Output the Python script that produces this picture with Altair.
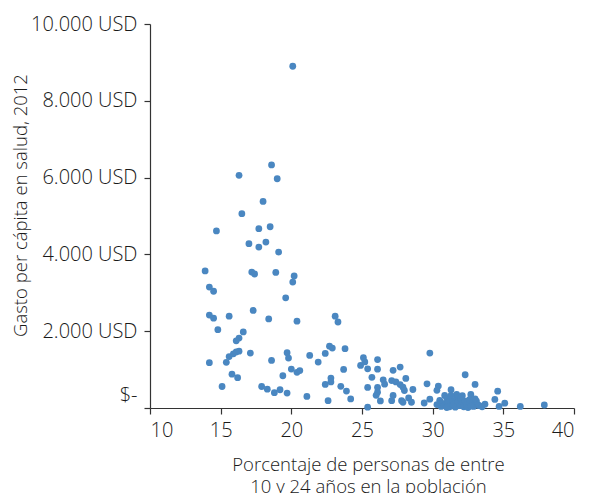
import altair as alt
import pandas as pd

# Share of population aged 10-24 (%)
pct_young = [
    20.1, 18.6, 16.3, 19.0, 18.0, 16.5, 14.7, 17.7, 18.5, 17.0, 18.2, 17.7, 19.1,
    13.9, 17.2, 17.4, 18.9, 20.2, 20.1, 14.2, 14.5, 19.6, 14.2, 14.5, 15.6, 17.3,
    18.4, 20.4, 14.8, 16.6, 16.3, 16.1, 15.6, 15.9, 16.1, 16.3, 17.1, 14.2, 15.4,
    18.6, 19.7, 19.8, 21.3, 15.8, 16.2, 15.1, 17.9, 18.3, 18.8, 19.2, 19.7, 19.4,
    20.0, 20.4, 20.6, 21.1, 21.9, 22.4, 22.7, 22.9, 23.8, 23.1, 23.3, 22.4, 22.8,
    22.8, 23.5, 23.7, 23.9, 24.2, 22.6,
    24.9, 25.1, 25.2, 25.4, 26.1, 26.1, 25.7, 25.4, 25.4, 26.1, 26.1, 26.0, 26.3,
    26.5, 26.6, 27.2, 27.7, 27.1, 27.4, 27.7, 27.9, 28.1, 28.0, 28.6, 27.2, 27.1,
    27.8, 28.3, 28.5, 27.9, 29.6, 29.8, 29.4, 29.8, 30.4, 30.3, 32.3, 33.0, 34.6,
    34.4, 35.1, 34.7, 36.2, 37.9, 31.3, 32.7, 31.7, 33.7, 33.2, 30.85, 31.7,
    30.5, 30.7, 30.9, 31.0, 31.1, 31.2, 31.4, 31.5, 31.6, 31.8, 31.9, 32.0, 32.1,
    32.2, 32.3, 32.4, 32.5, 32.6, 32.8, 32.9, 33.1, 33.3, 33.5, 31.3, 32.1, 30.6,
    31.0, 32.7, 33.0, 30.3,
]

# Health spending per capita, 2012 (USD)
spend = [
    8900, 6330, 6060, 5970, 5380, 5060, 4610, 4670, 4720, 4280, 4320, 4190, 4060,
    3570, 3540, 3490, 3530, 3440, 3280, 3150, 3040, 2870, 2420, 2340, 2390, 2540,
    2320, 2260, 2040, 1980, 1820, 1750, 1340, 1410, 1460, 1480, 1430, 1180, 1190,
    1240, 1440, 1300, 1370, 880, 790, 560, 560, 490, 400, 475, 390, 840,
    1015, 930, 975, 300, 1195, 1420, 1610, 1560, 1545, 2390, 2240, 615, 780,
    680, 565, 1005, 440, 235, 190,
    1110, 1310, 1200, 1020, 1260, 1010, 800, 535, 20, 535, 410, 330, 185,
    735, 620, 980, 1065, 715, 680, 610, 540, 770, 456, 482, 326, 190,
    190, 260, 150, 150, 630, 1430, 130, 230, 570, 460, 866, 613, 438,
    222, 125, 40, 40, 78, 475, 352, 352, 100, 83, 326, 266,
    200, 120, 60, 250, 150, 30, 200, 100, 20, 160, 60, 250, 120,
    30, 180, 80, 10, 220, 130, 40, 180, 60, 30, 330, 320, 40,
    10, 50, 240, 90,
]

x_ticks = [10, 15, 20, 25, 30, 35, 40]
y_ticks = [0, 2000, 4000, 6000, 8000, 10000]

df = pd.DataFrame({"pct": pct_young, "gasto": spend})

FONT = "Open Sans"

chart = alt.Chart(df).mark_circle(size=46, opacity=1, color="#4A87C1").encode(
    x=alt.X(
        "pct:Q",
        scale=alt.Scale(domain=[10, 40], nice=False, zero=False),
        axis=alt.Axis(
            values=x_ticks,
            title=["Porcentaje de personas de entre", "10 y 24 años en la población"],
            titleX=218,
            titleY=47,
            titleAlign="center",
            titleBaseline="top",
            titleLineHeight=22,
            labelPadding=6,
        ),
    ),
    y=alt.Y(
        "gasto:Q",
        scale=alt.Scale(domain=[0, 10000], nice=False),
        axis=alt.Axis(
            values=y_ticks,
            title="Gasto per cápita en salud, 2012",
            labelExpr="datum.value == 0 ? '$-' : replace(format(datum.value, ','), ',', '.') + ' USD'",
            labelOffset={"condition": {"test": "datum.value == 0", "value": -13}, "value": 0},
            labelPadding=7,
            titleX=-130,
            titleY=181,
            titleBaseline="middle",
        ),
    ),
).properties(
    width=424,
    height=384,
    autosize=alt.AutoSizeParams(type="none"),
    padding={"left": 142, "top": 16, "right": 10, "bottom": 90},
).configure_view(
    stroke=None
).configure_axis(
    grid=False,
    domainColor="#333333",
    tickColor="#333333",
    domainWidth=1.2,
    tickWidth=1.2,
    tickSize=6,
    labelFont=FONT,
    labelFontSize=20,
    labelFontWeight=300,
    labelColor="#1a1a1a",
    titleFont=FONT,
    titleFontSize=18.5,
    titleFontWeight=300,
    titleColor="#1a1a1a",
)

chart.save("out.html", embed_options={"renderer": "svg", "actions": False})
